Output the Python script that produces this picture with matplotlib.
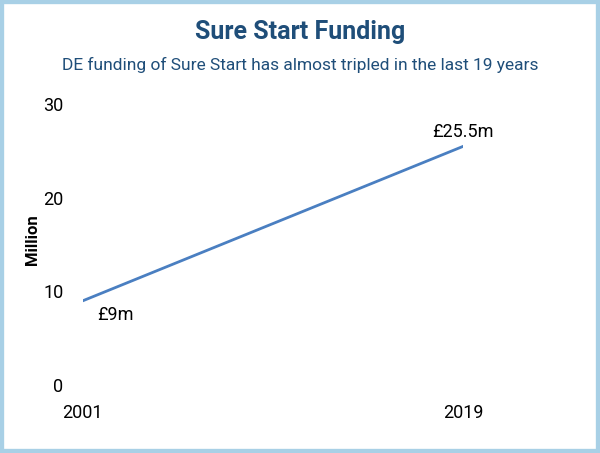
import matplotlib
matplotlib.use("Agg")
import matplotlib.pyplot as plt
from matplotlib.patches import Rectangle

years = [2001, 2019]
funding = [9, 25.5]
labels = ["£9m", "£25.5m"]
yticks = [0, 10, 20, 30]

plt.rcParams['font.family'] = ['Liberation Sans Narrow', 'Roboto', 'DejaVu Sans']
fig = plt.figure(figsize=(6, 4.53), dpi=100)
ax = fig.add_axes([0.138, 0.15, 0.634, 0.62])
ax.plot(years, funding, color="#4a7fc1", lw=2)
ax.set_xlim(2001, 2019)
ax.set_ylim(0, 30)
ax.set_xticks(years)
ax.set_yticks(yticks)
ax.tick_params(length=0, labelsize=13, pad=14)
for s in ax.spines.values():
    s.set_visible(False)
ax.text(2001.7, funding[0] - 1.5, labels[0], fontsize=13, va="center", ha="left")
ax.text(2019.0, funding[1] + 1.5, labels[1], fontsize=13, va="center", ha="center")
fig.text(0.055, 0.47, "Million", rotation=90, fontsize=12, fontweight="bold", ha="center", va="center")
fig.text(0.5, 0.915, "Sure Start Funding", ha="center", fontsize=18, color="#1f4e79", fontweight="bold")
fig.text(0.5, 0.845, "DE funding of Sure Start has almost tripled in the last 19 years", ha="center", fontsize=12.5, color="#1f4e79")
fig.patches.append(Rectangle((0, 0), 1, 1, transform=fig.transFigure, fill=False, ec="#a8d0e6", lw=6))
fig.savefig("out.png", dpi=100)
